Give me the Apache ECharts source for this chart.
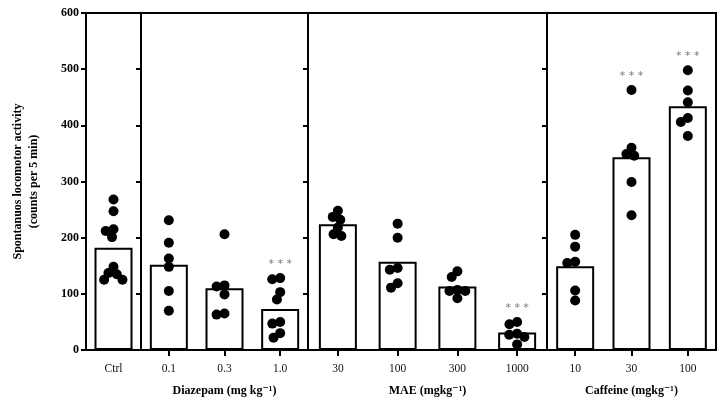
<!DOCTYPE html>
<html>
<head>
<meta charset="utf-8">
<script src="https://cdn.jsdelivr.net/npm/echarts@6/dist/echarts.min.js"></script>
<style>html,body{margin:0;padding:0;background:#fff}#c{width:728px;height:408px}</style>
</head>
<body>
<div id="c"></div>
<script>
// ---- data ----
const ctrlLabels = ['Ctrl'];
const diazLabels = ['0.1', '0.3', '1.0'];
const maeLabels = ['30', '100', '300', '1000'];
const caffLabels = ['10', '30', '100'];

const ctrlMean = [182];
const diazMean = [152, 110, 73];
const maeMean = [224, 157, 113, 31];
const caffMean = [149, 343, 434];

const ctrlDots = [[268, 247, 215, 212, 201, 148, 137, 135, 125, 125]];
const diazDots = [[231, 191, 163, 148, 105, 70], [206, 115, 113, 99, 65, 63], [128, 126, 103, 90, 50, 47, 30, 22]];
const maeDots = [[248, 237, 232, 218, 206, 203], [225, 200, 146, 143, 119, 111], [140, 130, 107, 105, 105, 92], [50, 46, 29, 27, 23, 10]];
const caffDots = [[205, 184, 157, 155, 106, 88], [463, 360, 349, 346, 299, 240], [498, 462, 441, 413, 406, 381]];

const ctrlSig = [''];
const diazSig = ['', '', '***'];
const maeSig = ['', '', '', '***'];
const caffSig = ['', '***', '***'];

const groupNames = ['', 'Diazepam (mg kg⁻¹)', 'MAE (mgkg⁻¹)', 'Caffeine (mgkg⁻¹)'];
const yTicks = [0, 100, 200, 300, 400, 500, 600];

// ---- layout ----
const FONT = '"Liberation Serif", "DejaVu Serif", serif';
const TOP = 13, BOTTOM = 58;
const panels = [
  { labels: ctrlLabels, mean: ctrlMean, dots: ctrlDots, sig: ctrlSig, left: 86, right: 587 },
  { labels: diazLabels, mean: diazMean, dots: diazDots, sig: diazSig, left: 141, right: 420 },
  { labels: maeLabels, mean: maeMean, dots: maeDots, sig: maeSig, left: 308, right: 181 },
  { labels: caffLabels, mean: caffMean, dots: caffDots, sig: caffSig, left: 547, right: 12 }
];

const chart = echarts.init(document.getElementById('c'), null, { renderer: 'canvas' });
const plotH = 408 - TOP - BOTTOM;
const pxPerUnit = plotH / (yTicks[yTicks.length - 1] - yTicks[0]);

// simple beeswarm: horizontal offsets so dots do not overlap too much
function swarm(values, d) {
  const placed = [];
  const order = values.map((v, i) => i).sort((a, b) => values[b] - values[a]);
  const offs = new Array(values.length).fill(0);
  order.forEach(i => {
    const y = values[i] * pxPerUnit;
    const cands = [0];
    placed.forEach(p => {
      const dy = Math.abs(p.y - y);
      if (dy < d) {
        const w = Math.sqrt(d * d - dy * dy);
        cands.push(p.x - w, p.x + w);
      }
    });
    cands.sort((a, b) => Math.abs(a) - Math.abs(b));
    let x = 0;
    for (const c of cands) {
      const ok = placed.every(p => (p.x - c) ** 2 + (p.y - y) ** 2 >= d * d - 0.01);
      if (ok) { x = c; break; }
    }
    placed.push({ x, y });
    offs[i] = x;
  });
  return offs;
}

const grids = [], xAxes = [], yAxes = [], series = [];
panels.forEach((p, gi) => {
  grids.push({ left: p.left, right: p.right, top: TOP, bottom: BOTTOM, show: true, borderColor: '#000', borderWidth: 2, containLabel: false });
  xAxes.push({
    type: 'category', gridIndex: gi, data: p.labels,
    axisLine: { lineStyle: { color: '#000', width: 2 } },
    axisTick: { show: gi > 0, alignWithLabel: true, length: 6, lineStyle: { color: '#000', width: 2 } },
    axisLabel: { color: '#111', fontFamily: FONT, fontSize: 11.5, margin: 13 },
    name: groupNames[gi], nameLocation: 'middle', nameGap: 35,
    nameTextStyle: { color: '#000', fontFamily: FONT, fontSize: 12, fontWeight: 'bold' }
  });
  yAxes.push({
    type: 'value', gridIndex: gi, min: 0, max: 600, interval: 100,
    axisLine: { show: true, lineStyle: { color: '#000', width: 2 } },
    axisTick: { show: true, length: 5, lineStyle: { color: '#000', width: 2 } },
    axisLabel: { show: gi === 0, color: '#000', fontFamily: FONT, fontSize: 12, fontWeight: 'bold', margin: 7 },
    splitLine: { show: false },
    name: gi === 0 ? 'Spontanuos locomotor activity\n(counts per 5 min)' : '',
    nameLocation: 'middle', nameGap: 44, nameRotate: 90,
    nameTextStyle: { color: '#000', fontFamily: FONT, fontSize: 12, fontWeight: 'bold', lineHeight: 16 }
  });
  series.push({
    type: 'bar', xAxisIndex: gi, yAxisIndex: gi, data: p.mean, barWidth: 38,
    itemStyle: { color: '#fff', borderColor: '#000', borderWidth: 2 },
    silent: true, animation: false
  });
  const dotData = [];
  p.dots.forEach((vals, ci) => {
    const offs = swarm(vals, 8);
    vals.forEach((v, k) => dotData.push({ value: [ci, v], symbolOffset: [offs[k], 0] }));
  });
  series.push({
    type: 'scatter', xAxisIndex: gi, yAxisIndex: gi, data: dotData, symbolSize: 10,
    itemStyle: { color: '#000', opacity: 1 }, silent: true, animation: false, z: 5
  });
  const sigData = [];
  p.sig.forEach((s, ci) => { if (s) sigData.push({ value: [ci, Math.max(...p.dots[ci])], name: s }); });
  series.push({
    type: 'scatter', xAxisIndex: gi, yAxisIndex: gi, data: sigData, symbolSize: 1,
    itemStyle: { color: 'rgba(0,0,0,0)' }, silent: true, animation: false, z: 6,
    label: { show: true, position: 'top', distance: 8, formatter: d => d.name.split('').join(' '),
      color: '#555', fontSize: 11, fontFamily: 'DejaVu Sans, sans-serif' }
  });
});

chart.setOption({
  animation: false,
  backgroundColor: '#fff',
  grid: grids, xAxis: xAxes, yAxis: yAxes, series: series
});
</script>
</body>
</html>
